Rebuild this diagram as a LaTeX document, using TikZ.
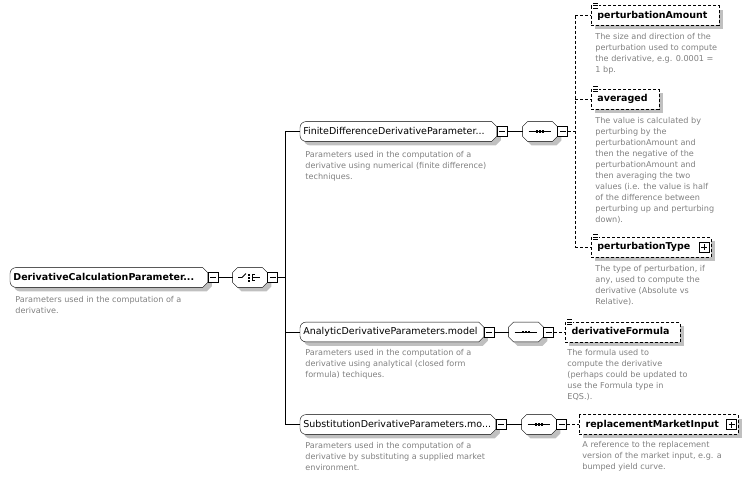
\documentclass[tikz,border=0pt]{standalone}
\usepackage{fontspec}
\setmainfont{DejaVu Sans}
\usetikzlibrary{positioning,backgrounds,calc}

\definecolor{descgray}{RGB}{128,128,128}
\definecolor{shadowgray}{RGB}{192,192,192}

\tikzset{
  elem/.style={anchor=west, text width=#1, minimum height=19pt, inner xsep=3pt, inner ysep=0pt,
    text height=7pt, text depth=2pt, align=left, font=\fontsize{9.5}{11}\selectfont},
  opt/.style={elem=#1, inner xsep=6pt, font=\fontsize{9.5}{11}\selectfont\bfseries},
  comp/.style={anchor=west, minimum width=34pt, minimum height=19pt, inner sep=0pt},
  togglebox/.style={draw, fill=white, minimum size=10pt, inner sep=0pt},
  minusbox/.style={togglebox, path picture={
    \draw ([xshift=2pt]path picture bounding box.west) -- ([xshift=-2pt]path picture bounding box.east);}},
  plusbox/.style={togglebox, path picture={
    \draw ([xshift=2pt]path picture bounding box.west) -- ([xshift=-2pt]path picture bounding box.east);
    \draw ([yshift=2pt]path picture bounding box.south) -- ([yshift=-2pt]path picture bounding box.north);}},
  optline/.style={dash pattern=on 3pt off 2pt},
  desc/.style={anchor=north west, inner sep=0pt, align=left, text=descgray, font=\fontsize{8.1}{11}\selectfont},
}

% outlines: #1 node, #2 offset
\newcommand\elempath[2]{[rounded corners=6pt] ($(#1.north)+(#2)$) -- ($(#1.north west)+(#2)$)
  -- ($(#1.south west)+(#2)$) -- ($(#1.south)+(#2)$) [sharp corners]
  -- ($(#1.south east)+(#2)+(-5,0)$) -- ($(#1.south east)+(#2)+(0,-5)$)
  -- ($(#1.north east)+(#2)+(0,5)$) -- ($(#1.north east)+(#2)+(-5,0)$) -- cycle}
\newcommand\comppath[2]{($(#1.north west)+(#2)+(5,0)$) -- ($(#1.north east)+(#2)+(-5,0)$)
  -- ($(#1.north east)+(#2)+(0,5)$) -- ($(#1.south east)+(#2)+(0,-5)$)
  -- ($(#1.south east)+(#2)+(-5,0)$) -- ($(#1.south west)+(#2)+(5,0)$)
  -- ($(#1.south west)+(#2)+(0,-5)$) -- ($(#1.north west)+(#2)+(0,5)$) -- cycle}
\newcommand\elemframe[1]{\fill[shadowgray] \elempath{#1}{4,4}; \draw[fill=white] \elempath{#1}{0,0};}
\newcommand\compframe[1]{\fill[shadowgray] \comppath{#1}{4,4}; \draw[fill=white] \comppath{#1}{0,0};}
\newcommand\optframe[1]{\fill[shadowgray] ($(#1.north west)+(4,4)$) rectangle ($(#1.south east)+(4,4)$);
  \draw[optline,fill=white] (#1.north west) rectangle (#1.south east);}
% icons
\newcommand\attrmark[1]{\fill[white] ($(#1.north west)+(0.5,-4)$) rectangle ($(#1.north west)+(8,3.5)$);
  \foreach \dy in {-2.4,0,2.4} \draw[line width=0.7pt] ($(#1.north west)+(2,\dy)$) -- ++(5,0);}
\newcommand\seqicon[1]{\draw ($(#1.west)+(6,0)$) -- ($(#1.east)+(-6,0)$);
  \foreach \dx in {-3,0,3} \fill ($(#1.center)+(\dx,0)$) +(-1.1,-1.1) rectangle +(1.1,1.1);}
\newcommand\choiceicon[1]{\draw ($(#1.center)+(-12,0)$) -- ($(#1.center)+(-8,0)$) -- ($(#1.center)+(-4,-4)$);
  \foreach \dy in {-3,0,3} \fill ($(#1.center)+(-1,\dy)$) +(-1,-1) rectangle +(1,1);
  \draw ($(#1.center)+(2,-3)$) -- ($(#1.center)+(2,3)$);
  \foreach \dy in {-3,0,3} \draw ($(#1.center)+(2,\dy)$) -- ++(3,0);
  \draw ($(#1.center)+(5,0)$) -- ($(#1.center)+(10,0)$);}

\begin{document}
\begin{tikzpicture}[x=1pt, y=-1pt, line width=0.8pt, node distance=15pt]
  \useasboundingbox (0,0) rectangle (748,479);
  % root and choice
  \node[elem=191pt, font=\fontsize{9.5}{11}\selectfont\bfseries] (root) at (10,277.5) {DerivativeCalculationParameter...};
  \node[minusbox, right=0pt of root] (rootm) {};
  \node[comp, right=14pt of rootm] (choice) {};
  \node[minusbox, right=0pt of choice] (choicem) {};
  \coordinate (junc) at (285,277.5);
  \node[desc] (rootd) at (15,296) {Parameters used in the computation of a\\derivative.};

  % finite difference
  \node[elem=190pt] (fd) at (300,131.5) {FiniteDifferenceDerivativeParameter...};
  \node[minusbox, right=0pt of fd] (fdm) {};
  \node[comp, right=of fdm] (fdseq) {};
  \node[minusbox, right=0pt of fdseq] (fdseqm) {};
  \coordinate (fdj) at (575,131.5);
  \node[desc] (fdd) at (305,151) {Parameters used in the computation of a\\derivative using numerical (finite difference)\\techniques.};

  \node[opt=115pt] (pa) at (591,15.5) {perturbationAmount};
  \node[desc] (pad) at (595,33) {The size and direction of the\\perturbation used to compute\\the derivative, e.g. 0.0001 =\\1 bp.};
  \node[opt=55pt] (av) at (591,99) {averaged};
  \node[desc] (avd) at (595,117) {The value is calculated by\\perturbing by the\\perturbationAmount and\\then the negative of the\\perturbationAmount and\\then averaging the two\\values (i.e. the value is half\\of the difference between\\perturbing up and perturbing\\down).};
  \node[opt=107pt] (pt) at (591,247) {perturbationType};
  \node[plusbox, left=1pt of pt.east] (ptp) {};
  \node[desc] (ptd) at (595,265) {The type of perturbation, if\\any, used to compute the\\derivative (Absolute vs\\Relative).};

  % analytic
  \node[elem=177pt] (ad) at (300,332) {AnalyticDerivativeParameters.model};
  \node[minusbox, right=0pt of ad] (adm) {};
  \node[comp, right=14pt of adm] (adseq) {};
  \node[minusbox, right=0pt of adseq] (adseqm) {};
  \node[opt=102pt, right=11pt of adseqm] (df) {derivativeFormula};
  \node[desc] (add) at (305,349) {Parameters used in the computation of a\\derivative using analytical (closed form\\formula) techiques.};
  \node[desc] (dfd) at (567,349) {The formula used to\\compute the derivative\\(perhaps could be updated to\\use the Formula type in\\EQS.).};

  % substitution
  \node[elem=189pt] (sd) at (300,424.5) {SubstitutionDerivativeParameters.mo...};
  \node[minusbox, right=0pt of sd] (sdm) {};
  \node[comp, right=of sdm] (sdseq) {};
  \node[minusbox, right=0pt of sdseq] (sdseqm) {};
  \node[opt=146pt, right=12pt of sdseqm] (rmi) {replacementMarketInput};
  \node[plusbox, left=1pt of rmi.east] (rmip) {};
  \node[desc] (sdd) at (305,442) {Parameters used in the computation of a\\derivative by substituting a supplied market\\environment.};
  \node[desc] (rmid) at (582,441) {A reference to the replacement\\version of the market input, e.g. a\\bumped yield curve.};

  % connectors
  \draw (rootm) -- (choice);
  \draw (choicem) -- (junc);
  \draw (fd.west -| junc) -- (sd.west -| junc);
  \foreach \n in {fd,ad,sd} \draw (\n.west -| junc) -- (\n);
  \foreach \a/\b in {fdm/fdseq, adm/adseq, sdm/sdseq} \draw (\a) -- (\b);
  \draw[optline] (fdseqm) -- (fdj);
  \draw[optline] (pa.west -| fdj) -- (pt.west -| fdj);
  \foreach \n in {pa,av,pt} \draw[optline] (\n.west -| fdj) -- (\n);
  \draw[optline] (adseqm) -- (df);
  \draw[optline] (sdseqm) -- (rmi);

  % frames
  \begin{scope}[on background layer]
    \elemframe{root} \elemframe{fd} \elemframe{ad} \elemframe{sd}
    \compframe{choice} \compframe{fdseq} \compframe{adseq} \compframe{sdseq}
    \optframe{pa} \optframe{av} \optframe{pt} \optframe{df} \optframe{rmi}
  \end{scope}
  \choiceicon{choice}
  \seqicon{fdseq} \seqicon{adseq} \seqicon{sdseq}
  \attrmark{pa} \attrmark{av} \attrmark{pt} \attrmark{df}
\end{tikzpicture}
\end{document}
